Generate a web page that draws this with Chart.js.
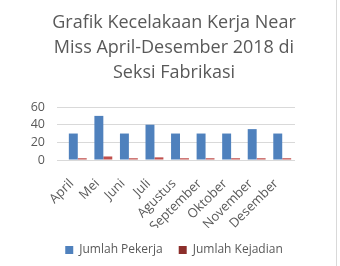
<!DOCTYPE html>
<html>
<head>
<meta charset="utf-8">
<script src="https://cdn.jsdelivr.net/npm/chart.js@4"></script>
<style>
  html, body { margin: 0; padding: 0; background: #fff; }
  #wrap { width: 336px; height: 266px; border-right: 1px solid #d9d9d9; }
</style>
</head>
<body>
<div id="wrap"><canvas id="chart"></canvas></div>
<script>
  // data
  const months = ['April', 'Mei', 'Juni', 'Juli', 'Agustus', 'September', 'Oktober', 'November', 'Desember'];
  const pekerja = [30, 50, 30, 40, 30, 30, 30, 35, 30];
  const kejadian = [2, 4, 2, 3, 2, 2, 2, 2, 2];
  const yTicks = [0, 20, 40, 60];

  const grey = '#595959';
  Chart.defaults.font.family = "'Open Sans', sans-serif";
  Chart.defaults.color = grey;

  // light front face, darker right edge (a hint of the 3D look)
  function shade(ctx, light, dark) {
    const el = ctx.element;
    if (!ctx.chart.chartArea || !el || !el.width) return light;
    const g = ctx.chart.ctx.createLinearGradient(el.x - el.width / 2, 0, el.x + el.width / 2, 0);
    g.addColorStop(0, light);
    g.addColorStop(0.62, light);
    g.addColorStop(1, dark);
    return g;
  }

  new Chart(document.getElementById('chart'), {
    type: 'bar',
    data: {
      labels: months,
      datasets: [
        { label: 'Jumlah Pekerja', data: pekerja,
          backgroundColor: c => shade(c, '#4f81bd', '#2c5a8f'), borderWidth: 0 },
        { label: 'Jumlah Kejadian', data: kejadian,
          backgroundColor: c => shade(c, '#c0504d', '#8c2e2b'), borderWidth: 0 }
      ]
    },
    options: {
      responsive: true,
      maintainAspectRatio: false,
      animation: false,
      devicePixelRatio: 1,
      layout: { padding: { left: 23, right: 11, top: 10, bottom: 0 } },
      datasets: { bar: { categoryPercentage: 0.7, barPercentage: 1 } },
      plugins: {
        title: {
          display: true,
          text: ['Grafik Kecelakaan Kerja Near', 'Miss April-Desember 2018 di', 'Seksi Fabrikasi'],
          color: grey,
          font: { size: 18, weight: 'normal', lineHeight: 1.39 },
          padding: { top: 0, bottom: 22 }
        },
        legend: {
          position: 'bottom',
          labels: { boxWidth: 8, boxHeight: 8, font: { size: 12 }, color: grey, padding: 16 }
        },
        tooltip: { enabled: false }
      },
      scales: {
        x: {
          grid: { display: false },
          border: { display: false },
          afterFit: s => { s.height = 68; },
          ticks: { autoSkip: false, minRotation: 45, maxRotation: 45, labelOffset: -6,
                   font: { size: 13 }, color: grey, padding: 8 }
        },
        y: {
          min: 0, max: 60,
          afterBuildTicks: s => { s.ticks = yTicks.map(v => ({ value: v })); },
          afterFit: s => { s.width = 42; },
          grid: { color: '#d9d9d9' },
          border: { display: false },
          ticks: { autoSkip: false, font: { size: 12.5 }, color: grey, padding: 12 }
        },
        // empty right axis, only reserves the space to the right of the plot
        yR: {
          position: 'right',
          grid: { display: false },
          border: { display: false },
          ticks: { display: false },
          afterFit: s => { s.width = 30; }
        }
      }
    }
  });
</script>
</body>
</html>
